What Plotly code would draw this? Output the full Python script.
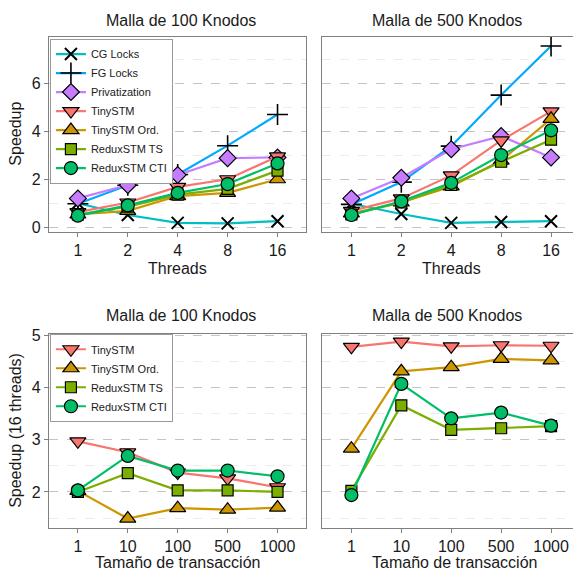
import plotly.graph_objects as go

# ---------------- data ----------------
threads = ["1", "2", "4", "8", "16"]
tx_sizes = ["1", "10", "100", "500", "1000"]

series_top = ["CG Locks", "FG Locks", "Privatization", "TinySTM",
              "TinySTM Ord.", "ReduxSTM TS", "ReduxSTM CTI"]

# Malla de 100 Knodos, speedup vs threads
cg100 = [1.02, 0.53, 0.20, 0.18, 0.27]
fg100 = [1.00, 1.77, 2.22, 3.42, 4.72]
priv100 = [1.22, 1.78, 2.20, 2.90, 2.93]
tiny100 = [0.65, 1.05, 1.70, 2.02, 2.97]
ord100 = [0.55, 0.70, 1.32, 1.45, 2.02]
ts100 = [0.55, 0.88, 1.38, 1.62, 2.38]
cti100 = [0.50, 0.93, 1.45, 1.82, 2.68]

# Malla de 500 Knodos, speedup vs threads
cg500 = [1.00, 0.57, 0.20, 0.24, 0.27]
fg500 = [0.97, 1.90, 3.40, 5.53, 7.58]
priv500 = [1.22, 2.08, 3.27, 3.82, 2.93]
tiny500 = [0.70, 1.22, 2.18, 3.64, 4.85]
ord500 = [0.60, 1.05, 1.72, 2.80, 4.54]
ts500 = [0.55, 1.05, 1.78, 2.75, 3.67]
cti500 = [0.53, 1.10, 1.87, 3.03, 4.06]

# speedup (16 threads) vs transaction size
series_bottom = ["TinySTM", "TinySTM Ord.", "ReduxSTM TS", "ReduxSTM CTI"]
tiny_b100 = [2.97, 2.76, 2.37, 2.26, 2.09]
ord_b100 = [2.02, 1.49, 1.69, 1.66, 1.70]
ts_b100 = [2.00, 2.36, 2.03, 2.03, 2.00]
cti_b100 = [2.03, 2.69, 2.41, 2.41, 2.30]
tiny_b500 = [4.78, 4.88, 4.79, 4.81, 4.80]
ord_b500 = [2.83, 4.31, 4.39, 4.55, 4.52]
ts_b500 = [2.02, 3.66, 3.19, 3.22, 3.26]
cti_b500 = [1.94, 4.07, 3.41, 3.52, 3.27]

# ---------------- styles ----------------
style = {
    "CG Locks": dict(color="#00BFC4", symbol="x-thin", size=12, fill="black", lw=2),
    "FG Locks": dict(color="#00A9FF", symbol="cross-thin", size=15, fill="black", lw=1.6),
    "Privatization": dict(color="#C77CFF", symbol="diamond", size=13, fill="#C77CFF", lw=1.2),
    "TinySTM": dict(color="#F8766D", symbol="triangle-down", size=14, fill="#F8766D", lw=1.2),
    "TinySTM Ord.": dict(color="#CD9600", symbol="triangle-up", size=14, fill="#CD9600", lw=1.2),
    "ReduxSTM TS": dict(color="#7CAE00", symbol="square", size=11, fill="#7CAE00", lw=1.2),
    "ReduxSTM CTI": dict(color="#00BE67", symbol="circle", size=13, fill="#00BE67", lw=1.2),
}

fig = go.Figure()


def add(name, x, y, xa, ya, legend, show):
    s = style[name]
    fig.add_trace(go.Scatter(
        x=x, y=y, name=name, mode="lines+markers",
        xaxis=xa, yaxis=ya, legend=legend, showlegend=show, legendgroup=legend + name,
        line=dict(color=s["color"], width=2.2),
        marker=dict(symbol=s["symbol"], size=s["size"], color=s["fill"],
                    line=dict(color="black", width=s["lw"])),
    ))


top100 = [cg100, fg100, priv100, tiny100, ord100, ts100, cti100]
top500 = [cg500, fg500, priv500, tiny500, ord500, ts500, cti500]
for name, v in zip(series_top, top100):
    add(name, threads, v, "x", "y", "legend", True)
for name, v in zip(series_top, top500):
    add(name, threads, v, "x2", "y2", "legend", False)
bot100 = [tiny_b100, ord_b100, ts_b100, cti_b100]
bot500 = [tiny_b500, ord_b500, ts_b500, cti_b500]
for name, v in zip(series_bottom, bot100):
    add(name, tx_sizes, v, "x3", "y3", "legend2", True)
for name, v in zip(series_bottom, bot500):
    add(name, tx_sizes, v, "x4", "y4", "legend2", False)

# page body adds an 8px offset; lay out in a 573px figure
OFF = 8
W = 573.0


def px(v):
    return (v - OFF) / W


def py(v):
    return 1 - (v - OFF) / W


xl = [px(49), px(307)]
xr = [px(323), 1.0]
yt = [py(229), py(30)]
yb = [py(531), py(333)]

border = "#808080"
tickfont = dict(family="Liberation Sans, Arial, sans-serif", size=16, color="#1a1a1a")


def xax(dom, anchor):
    return dict(domain=dom, anchor=anchor, type="category", range=[-0.58, 4.58],
                showline=True, mirror=True, linecolor=border, linewidth=1,
                ticks="outside", ticklen=4, tickcolor=border, tickfont=tickfont,
                showgrid=False, zeroline=False, fixedrange=True)


def yax(dom, anchor, rng, dtick, show_labels):
    return dict(domain=dom, anchor=anchor, range=rng, dtick=dtick, tick0=0,
                showline=True, mirror=True, linecolor=border, linewidth=1,
                ticks="outside" if show_labels else "", ticklen=4, tickcolor=border,
                showticklabels=show_labels, tickfont=tickfont,
                showgrid=True, gridcolor="#c4c4c4", griddash="dash", gridwidth=1,
                minor=dict(dtick=dtick / 2, showgrid=True, gridcolor="#ececec",
                           griddash="dash", ticks=""),
                zeroline=False, fixedrange=True)


top_rng = [-0.17, 7.97]
bot_rng = [1.31, 5.03]

leg_common = dict(xanchor="left", yanchor="top", bgcolor="white",
                  bordercolor="#999999", borderwidth=1,
                  font=dict(size=11, color="#1a1a1a"), tracegroupgap=0, itemwidth=30)

fig.update_layout(
    width=573, height=573, autosize=False,
    margin=dict(l=0, r=0, t=0, b=0),
    paper_bgcolor="white", plot_bgcolor="white",
    font=dict(family="Liberation Sans, Arial, sans-serif", color="#1a1a1a"),
    xaxis=xax(xl, "y"), yaxis=yax(yt, "x", top_rng, 2, True),
    xaxis2=xax(xr, "y2"), yaxis2=yax(yt, "x2", top_rng, 2, False),
    xaxis3=xax(xl, "y3"), yaxis3=yax(yb, "x3", bot_rng, 1, True),
    xaxis4=xax(xr, "y4"), yaxis4=yax(yb, "x4", bot_rng, 1, False),
    legend=dict(x=px(50), y=py(32), **leg_common),
    legend2=dict(x=px(50), y=py(333), **leg_common),
)

texts = [
    ("Malla de 100 Knodos", 181, 14, 0),
    ("Malla de 500 Knodos", 448, 14, 0),
    ("Malla de 100 Knodos", 181, 314, 0),
    ("Malla de 500 Knodos", 448, 314, 0),
    ("Threads", 178, 266, 0),
    ("Threads", 452, 266, 0),
    ("Tamaño de transacción", 178, 566, 0),
    ("Tamaño de transacción", 455, 566, 0),
    ("Speedup", 16, 129, -90),
    ("Speedup (16 threads)", 16, 431, -90),
]
for t, ax, ay, ang in texts:
    fig.add_annotation(text=t, x=px(ax), y=py(ay), xref="paper", yref="paper",
                       xanchor="center", yanchor="middle", showarrow=False,
                       textangle=ang, font=dict(size=16, color="#1a1a1a"))

fig.write_html("out.html")
